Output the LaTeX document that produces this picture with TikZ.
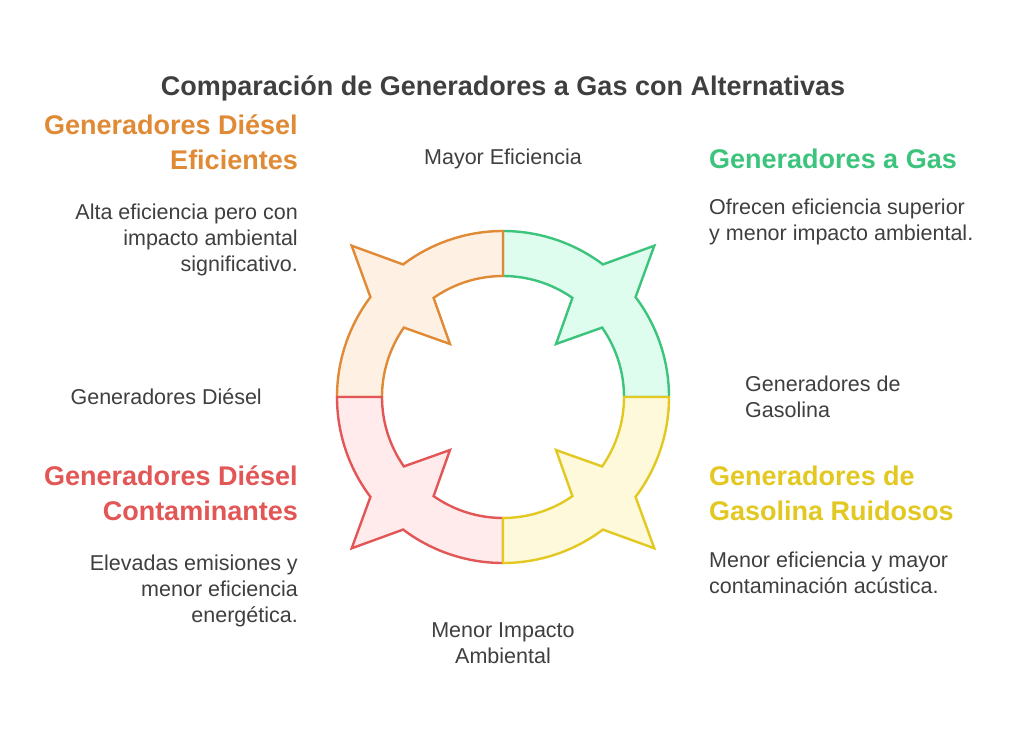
\documentclass[tikz,border=0pt]{standalone}
\usepackage{fontspec}
\setmainfont{Liberation Sans}
\definecolor{gS}{HTML}{3CC47C}\definecolor{gF}{HTML}{DFFDEE}
\definecolor{oS}{HTML}{E08A35}\definecolor{oF}{HTML}{FEF0E3}
\definecolor{rS}{HTML}{E25656}\definecolor{rF}{HTML}{FFEBEB}
\definecolor{yS}{HTML}{E2C821}\definecolor{yF}{HTML}{FEF9DA}
\definecolor{txt}{HTML}{3F3F3F}
\newcommand{\seg}[3]{%
\draw[line width=2.4pt,draw=#2,fill=#3,line join=miter]
 (#1+90:166) arc[start angle=#1+90,end angle=#1+53,radius=166] -- (#1+45:214) -- (#1+37:166)
 arc[start angle=#1+37,end angle=#1,radius=166] -- (#1:121)
 arc[start angle=#1,end angle=#1+35,radius=121] -- (#1+45:75) -- (#1+55:121)
 arc[start angle=#1+55,end angle=#1+90,radius=121] -- cycle;}
\begin{document}
\begin{tikzpicture}[x=1pt,y=1pt,inner sep=0pt,
 body/.style={text=txt,font=\fontsize{21.5}{26}\selectfont},
 head/.style={font=\bfseries\fontsize{27}{35}\selectfont}]
\useasboundingbox[fill=white] (-503,-345) rectangle (521,397);
\seg{0}{gS}{gF}
\seg{90}{oS}{oF}
\seg{180}{rS}{rF}
\seg{270}{yS}{yF}
\node[text=txt,font=\bfseries\fontsize{27}{30}\selectfont] (title) at (0,309) {Comparación de Generadores a Gas con Alternativas};
\node[body] (top) at (0,238) {Mayor Eficiencia};
\node[body,anchor=west,align=left] (right) at (242,0) {Generadores de\\Gasolina};
\node[body,anchor=east,align=right] (left) at (-241,0) {Generadores Diésel};
\node[body,align=center] (bottom) at (0,-246) {Menor Impacto\\Ambiental};
\node[head,text=oS,anchor=east,align=right] (oh) at (-205,255) {Generadores Diésel\\Eficientes};
\node[body,anchor=east,align=right] (od) at (-205,157) {Alta eficiencia pero con\\impacto ambiental\\significativo.};
\node[head,text=gS,anchor=west,align=left] (gh) at (206,238) {Generadores a Gas};
\node[body,anchor=west,align=left] (gd) at (206,175) {Ofrecen eficiencia superior\\y menor impacto ambiental.};
\node[head,text=rS,anchor=east,align=right] (rh) at (-205,-96) {Generadores Diésel\\Contaminantes};
\node[body,anchor=east,align=right] (rd) at (-205,-194) {Elevadas emisiones y\\menor eficiencia\\energética.};
\node[head,text=yS,anchor=west,align=left] (yh) at (206,-96) {Generadores de\\Gasolina Ruidosos};
\node[body,anchor=west,align=left] (yd) at (206,-176) {Menor eficiencia y mayor\\contaminación acústica.};
\end{tikzpicture}
\end{document}
